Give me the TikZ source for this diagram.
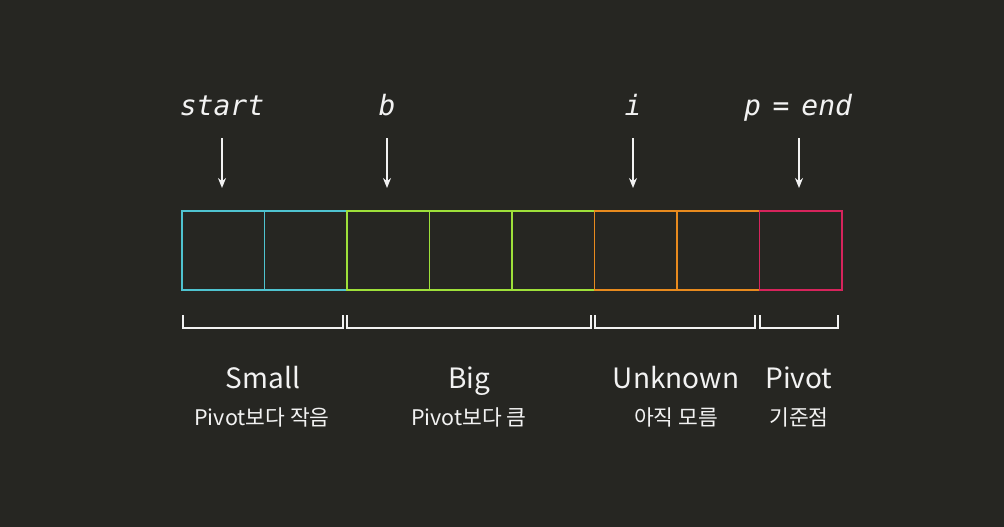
\documentclass[tikz,border=0pt]{standalone}
\usepackage{fontspec}
\usetikzlibrary{arrows.meta}
\setmainfont{Noto Sans CJK KR}
\newfontfamily\codefont{DejaVu Sans Mono}
\definecolor{bg}{HTML}{262622}
\definecolor{cyanc}{HTML}{4FC3D0}
\definecolor{greenc}{HTML}{9EE03A}
\definecolor{orangec}{HTML}{E88A1E}
\definecolor{pinkc}{HTML}{D6245C}
\definecolor{fg}{HTML}{F2F2F2}
\begin{document}
\begin{tikzpicture}[x=1pt,y=-1pt,
  cell/.style={draw=#1,line width=1.8pt,minimum width=82.5pt,minimum height=79pt,inner sep=0pt,anchor=north west},
  ptr/.style={font=\codefont\itshape\fontsize{28}{32}\selectfont,text=fg,inner sep=0pt,anchor=base},
  ptrarrow/.style={draw=fg,line width=1.8pt,-{Stealth[length=10pt,width=8pt]}},
  brk/.style={draw=fg,line width=1.5pt},
  title/.style={font=\fontsize{28}{32}\selectfont,text=fg,inner sep=0pt,anchor=base},
  sub/.style={font=\fontsize{21.5}{24}\selectfont,text=fg,inner sep=0pt,anchor=base}]
\useasboundingbox[fill=bg] (0,0) rectangle (1004,527);
% cells
\node[cell=cyanc] (c1) at (181,210) {};
\node[cell=cyanc] (c2) at (263.5,210) {};
\node[cell=greenc] (c3) at (346,210) {};
\node[cell=greenc] (c4) at (428.5,210) {};
\node[cell=greenc] (c5) at (511,210) {};
\node[cell=orangec] (c6) at (593.5,210) {};
\node[cell=orangec] (c7) at (676,210) {};
\node[cell=pinkc] (c8) at (758.5,210) {};
% pointer labels
\node[ptr] (ls) at (222,115) {start};
\node[ptr] (lb) at (387,115) {b};
\node[ptr] (li) at (633,115) {i};
\node[ptr] (lp) at (798,115) {p\hspace{-5pt} = \hspace{-5pt}end};
\coordinate (as) at (222,138); \coordinate (bs) at (222,188);
\coordinate (ab) at (387,138); \coordinate (bb) at (387,188);
\coordinate (ai) at (633,138); \coordinate (bi) at (633,188);
\coordinate (ap) at (799,138); \coordinate (bp) at (799,188);
\draw[ptrarrow] (as) -- (bs);
\draw[ptrarrow] (ab) -- (bb);
\draw[ptrarrow] (ai) -- (bi);
\draw[ptrarrow] (ap) -- (bp);
% brackets
\draw[brk] (183,315) -- (183,328) -- (343,328) -- (343,315);
\draw[brk] (347,315) -- (347,328) -- (591,328) -- (591,315);
\draw[brk] (595,315) -- (595,328) -- (755,328) -- (755,315);
\draw[brk] (760,315) -- (760,328) -- (838,328) -- (838,315);
% titles
\node[title] (t1) at (263,388) {Small};
\node[title] (t2) at (469,388) {Big};
\node[title] (t3) at (676,388) {Unknown};
\node[title] (t4) at (799,388) {Pivot};
\node[sub] (s1) at (262,425) {Pivot보다 작음};
\node[sub] (s2) at (469,425) {Pivot보다 큼};
\node[sub] (s3) at (676,425) {아직 모름};
\node[sub] (s4) at (799,425) {기준점};
\end{tikzpicture}
\end{document}
